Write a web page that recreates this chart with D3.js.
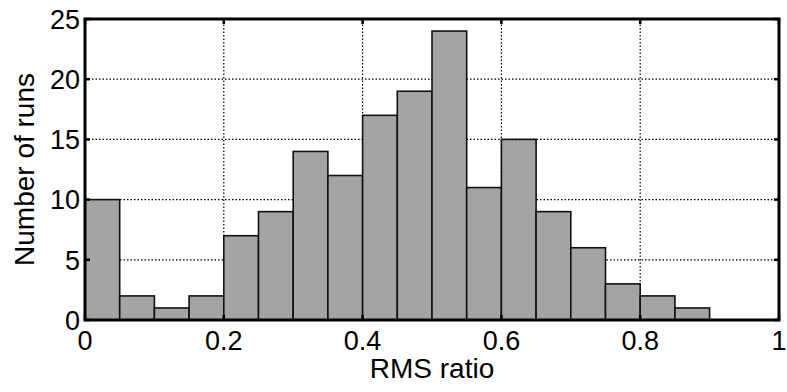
<!DOCTYPE html>
<html>
<head>
<meta charset="utf-8">
<script src="https://cdn.jsdelivr.net/npm/d3@7"></script>
<style>
html,body{margin:0;padding:0;background:#fff;}
svg{display:block;}
text{font-family:"Liberation Sans",Arial,sans-serif;fill:#000;}
</style>
</head>
<body>
<svg id="chart" width="787" height="392"></svg>
<script>
const binStarts = [0,0.05,0.1,0.15,0.2,0.25,0.3,0.35,0.4,0.45,0.5,0.55,0.6,0.65,0.7,0.75,0.8,0.85,0.9,0.95];
const counts    = [10,2,1,2,7,9,14,12,17,19,24,11,15,9,6,3,2,1,0,0];
const binWidth = 0.05;
const xTicks = [0,0.2,0.4,0.6,0.8,1];
const yTicks = [0,5,10,15,20,25];
const xLabel = "RMS ratio";
const yLabel = "Number of runs";

const svg = d3.select("#chart");
const m = {left:85, right:8, top:19, bottom:72};
const W = 787, H = 392;
const x = d3.scaleLinear().domain([0,1]).range([m.left, W-m.right]);
const y = d3.scaleLinear().domain([0,25]).range([H-m.bottom, m.top]);

// gridlines
const grid = svg.append("g").attr("stroke","#000").attr("stroke-width",1.2).attr("stroke-dasharray","1.5,2");
grid.selectAll("line.gx").data(xTicks.filter(t=>t>0&&t<1)).join("line")
  .attr("x1",d=>x(d)).attr("x2",d=>x(d)).attr("y1",y(0)).attr("y2",y(25));
grid.selectAll("line.gy").data(yTicks.filter(t=>t>0&&t<25)).join("line")
  .attr("y1",d=>y(d)).attr("y2",d=>y(d)).attr("x1",x(0)).attr("x2",x(1));

// bars
svg.append("g").selectAll("rect").data(binStarts.map((b,i)=>({b,c:counts[i]})).filter(d=>d.c>0)).join("rect")
  .attr("x",d=>x(d.b)).attr("width",d=>x(d.b+binWidth)-x(d.b))
  .attr("y",d=>y(d.c)).attr("height",d=>y(0)-y(d.c))
  .attr("fill","#a4a4a4").attr("stroke","#111").attr("stroke-width",1.6);

// ticks inward on all four sides
const tk = svg.append("g").attr("stroke","#000").attr("stroke-width",2.5);
const tl = 5;
xTicks.forEach(t=>{
  tk.append("line").attr("x1",x(t)).attr("x2",x(t)).attr("y1",y(0)).attr("y2",y(0)-tl);
  tk.append("line").attr("x1",x(t)).attr("x2",x(t)).attr("y1",y(25)).attr("y2",y(25)+tl);
});
yTicks.forEach(t=>{
  tk.append("line").attr("y1",y(t)).attr("y2",y(t)).attr("x1",x(0)).attr("x2",x(0)+tl);
  tk.append("line").attr("y1",y(t)).attr("y2",y(t)).attr("x1",x(1)).attr("x2",x(1)-tl);
});

// frame
svg.append("rect").attr("x",x(0)).attr("y",y(25)).attr("width",x(1)-x(0)).attr("height",y(0)-y(25))
  .attr("fill","none").attr("stroke","#000").attr("stroke-width",3);

// tick labels
svg.append("g").selectAll("text").data(xTicks).join("text")
  .attr("x",d=>x(d)).attr("y",y(0)+30).attr("text-anchor","middle")
  .style("font-size","27px").text(d=>d3.format("~g")(d));
svg.append("g").selectAll("text").data(yTicks).join("text")
  .attr("x",x(0)-5).attr("y",d=>y(d)).attr("dy","0.36em").attr("text-anchor","end")
  .style("font-size","27px").text(d=>d);

// axis labels
svg.append("text").attr("x",(x(0)+x(1))/2).attr("y",378).attr("text-anchor","middle")
  .style("font-size","28px").text(xLabel);
svg.append("text").attr("transform",`translate(34,${(y(0)+y(25))/2}) rotate(-90)`)
  .attr("text-anchor","middle").style("font-size","28px").text(yLabel);
</script>
</body>
</html>
